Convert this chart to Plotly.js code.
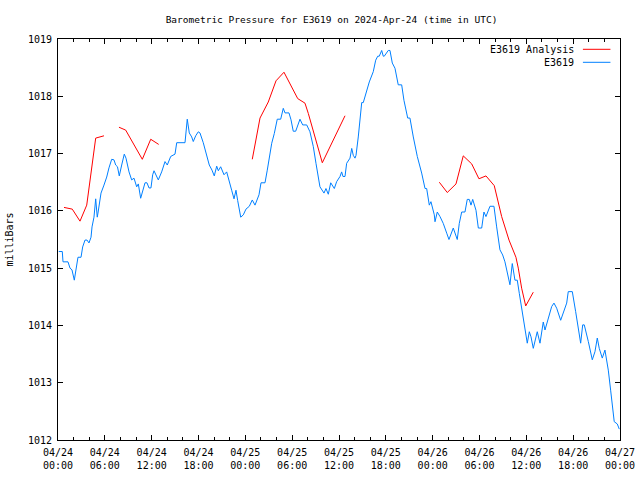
<!DOCTYPE html>
<html>
<head>
<meta charset="utf-8">
<script src="https://cdn.plot.ly/plotly-3.0.1.min.js"></script>
<style>html,body{margin:0;padding:0;background:#fff}#chart{width:640px;height:480px}</style>
</head>
<body>
<div id="chart"></div>
<script>
// Hours since 2024-04-24 00:00 UTC
const obsHours = [0.1,0.55,0.64,1.28,1.54,1.79,2.09,2.31,2.56,2.95,3.16,3.46,3.72,3.97,4.23,4.36,4.61,4.83,5.03,5.12,5.51,5.89,6.24,6.53,6.88,7.17,7.39,7.62,7.85,8.16,8.49,8.71,9.10,9.44,9.74,10.08,10.29,10.59,10.80,11.15,11.40,11.66,11.91,12.13,12.30,12.85,13.28,13.71,14.00,14.44,14.99,15.21,16.27,16.56,16.82,17.13,17.33,17.64,17.97,18.19,18.61,18.96,19.38,19.73,20.02,20.33,20.54,20.84,21.27,21.61,21.91,22.25,22.55,22.80,23.02,23.41,23.74,24.08,24.51,24.89,25.24,25.75,26.01,26.52,26.81,27.07,27.38,27.71,28.09,28.53,28.86,29.08,29.59,29.85,30.14,30.45,30.75,31.00,31.35,31.86,32.28,32.71,33.05,33.56,34.08,34.33,34.63,34.94,35.40,35.70,36.13,36.34,36.51,36.77,36.98,37.41,37.63,37.83,38.05,38.18,38.47,38.69,38.91,39.11,39.46,39.88,40.39,40.70,40.96,41.16,41.47,41.67,41.80,42.31,42.53,42.83,43.17,43.59,44.03,44.32,44.80,45.09,45.52,46.03,46.59,47.02,47.23,47.57,47.78,48.21,48.30,48.59,48.94,49.36,49.80,50.09,50.64,51.15,51.41,51.72,52.14,52.43,52.69,52.91,53.13,53.55,53.85,54.28,54.57,54.83,55.34,55.85,56.20,56.62,56.97,57.26,57.90,58.20,58.54,58.84,59.10,59.41,59.74,60.12,60.38,60.60,60.89,61.20,61.40,61.75,62.17,62.39,62.81,63.25,63.54,63.89,64.40,64.82,65.17,65.37,65.89,66.32,66.65,66.96,67.22,67.42,67.94,68.45,68.79,69.09,69.34,69.73,70.07,70.50,70.80,71.06,71.26,71.65,71.91];
const obsPressure = [1015.29,1015.29,1015.11,1015.11,1015.00,1014.97,1014.79,1014.97,1015.19,1015.19,1015.37,1015.49,1015.49,1015.44,1015.54,1015.72,1015.89,1016.21,1015.89,1015.96,1016.31,1016.45,1016.59,1016.75,1016.90,1016.89,1016.80,1016.77,1016.61,1016.80,1016.99,1016.92,1016.68,1016.54,1016.57,1016.42,1016.47,1016.22,1016.33,1016.49,1016.49,1016.40,1016.40,1016.63,1016.70,1016.54,1016.68,1016.86,1016.80,1016.95,1016.99,1017.19,1017.19,1017.60,1017.36,1017.29,1017.21,1017.31,1017.38,1017.36,1017.19,1017.01,1016.80,1016.71,1016.61,1016.78,1016.70,1016.77,1016.63,1016.68,1016.51,1016.36,1016.21,1016.36,1016.18,1015.89,1015.93,1016.03,1016.08,1016.19,1016.10,1016.28,1016.49,1016.49,1016.71,1016.92,1017.18,1017.35,1017.60,1017.60,1017.79,1017.71,1017.71,1017.59,1017.39,1017.39,1017.50,1017.60,1017.50,1017.50,1017.38,1017.12,1016.83,1016.42,1016.31,1016.39,1016.29,1016.49,1016.39,1016.51,1016.60,1016.68,1016.60,1016.60,1016.83,1016.92,1017.09,1016.97,1016.92,1016.97,1017.29,1017.59,1017.89,1017.89,1018.05,1018.25,1018.43,1018.63,1018.70,1018.70,1018.80,1018.70,1018.70,1018.80,1018.80,1018.58,1018.49,1018.20,1018.20,1017.93,1017.62,1017.62,1017.29,1016.95,1016.66,1016.39,1016.39,1016.10,1016.16,1015.93,1015.81,1015.98,1015.90,1015.78,1015.61,1015.50,1015.70,1015.50,1015.78,1015.98,1015.98,1016.20,1016.20,1016.10,1016.20,1016.01,1015.70,1015.70,1015.98,1015.90,1016.08,1016.08,1015.72,1015.32,1015.23,1015.11,1014.71,1015.08,1014.79,1014.79,1014.56,1014.27,1013.98,1013.69,1013.89,1013.80,1013.60,1013.80,1013.89,1013.69,1014.06,1013.92,1014.12,1014.33,1014.39,1014.30,1014.09,1014.24,1014.39,1014.59,1014.59,1014.24,1013.92,1013.69,1014.01,1014.01,1013.72,1013.40,1013.54,1013.78,1013.60,1013.43,1013.57,1013.22,1012.87,1012.52,1012.32,1012.28,1012.19];

// Analysis series (null = gap)
const anaHours = [0.77,1.32,1.83,2.82,3.68,4.83,5.38,5.89,6.8,7.81,8.67,10.80,11.88,12.90,18.9,24.89,25.58,25.88,26.94,27.93,28.95,30.71,31.64,32.07,33.86,36.77,42.8,48.85,49.87,50.99,51.92,53.00,53.93,54.83,55.89,56.84,57.78,58.67,58.97,59.40,59.92,60.89];
const anaPressure = [1016.06,1016.04,1016.03,1015.82,1016.10,1017.27,1017.29,1017.31,null,1017.46,1017.41,1016.90,1017.25,1017.16,null,1016.90,1017.44,1017.62,1017.90,1018.27,1018.42,1017.96,1017.88,1017.70,1016.84,1017.66,null,1016.50,1016.32,1016.47,1016.96,1016.82,1016.56,1016.61,1016.44,1015.90,1015.49,1015.19,1015.00,1014.65,1014.34,1014.58];

const tickHours = [0,6,12,18,24,30,36,42,48,54,60,66,72];
const tickLabels = ["04/24<br>00:00","04/24<br>06:00","04/24<br>12:00","04/24<br>18:00","04/25<br>00:00","04/25<br>06:00","04/25<br>12:00","04/25<br>18:00","04/26<br>00:00","04/26<br>06:00","04/26<br>12:00","04/26<br>18:00","04/27<br>00:00"];
const seriesNames = ["E3619 Analysis","E3619"];
const seriesColors = ["#ff0000","#0080ff"];

const font = {family: "DejaVu Sans Mono, monospace", size: 10, color: "#000"};
const titleFont = {family: "DejaVu Sans Mono, monospace", size: 9.5, color: "#000"};

const traces = [
  {x: anaHours, y: anaPressure, type: "scatter", mode: "lines", name: seriesNames[0],
   line: {color: seriesColors[0], width: 1}, connectgaps: false},
  {x: obsHours, y: obsPressure, type: "scatter", mode: "lines", name: seriesNames[1],
   line: {color: seriesColors[1], width: 1}}
];

const legY = [0.9743, 0.9419];
const annotations = seriesNames.map((n, i) => ({
  xref: "paper", yref: "paper", x: 0.922, y: legY[i], xanchor: "right", yanchor: "middle",
  text: n, showarrow: false, font: font
}));
const shapes = seriesNames.map((n, i) => ({
  type: "line", xref: "paper", yref: "paper", x0: 0.934, x1: 0.983, y0: legY[i], y1: legY[i],
  line: {color: seriesColors[i], width: 1}
}));

const layout = {
  width: 640, height: 480,
  margin: {l: 58, r: 20, t: 39, b: 40, pad: 0},
  paper_bgcolor: "#fff", plot_bgcolor: "#fff",
  font: font,
  showlegend: false,
  title: {text: "Barometric Pressure for E3619 on 2024-Apr-24 (time in UTC)", font: titleFont,
          x: 0.518, xanchor: "center", y: 0.96, yanchor: "middle", xref: "container", yref: "container"},
  xaxis: {range: [0, 72], tickvals: tickHours, ticktext: tickLabels, ticks: "inside", ticklen: 5,
          tickcolor: "#000", showline: true, linecolor: "#000", linewidth: 1, mirror: "ticks",
          showgrid: false, zeroline: false, tickfont: font, automargin: false, ticklabelstandoff: 3,
          minor: {dtick: 2, tick0: 0, ticks: "inside", ticklen: 3, tickcolor: "#000", showgrid: false}},
  yaxis: {range: [1012, 1019], dtick: 1, tick0: 1012, ticks: "inside", ticklen: 5, tickcolor: "#000",
          showline: true, linecolor: "#000", linewidth: 1, mirror: "ticks", showgrid: false,
          zeroline: false, tickfont: font, automargin: false, ticklabelstandoff: 3,
          title: {text: "milliBars", font: font, standoff: 12}},
  annotations: annotations,
  shapes: shapes
};

Plotly.newPlot("chart", traces, layout, {staticPlot: true, displayModeBar: false});
</script>
</body>
</html>
